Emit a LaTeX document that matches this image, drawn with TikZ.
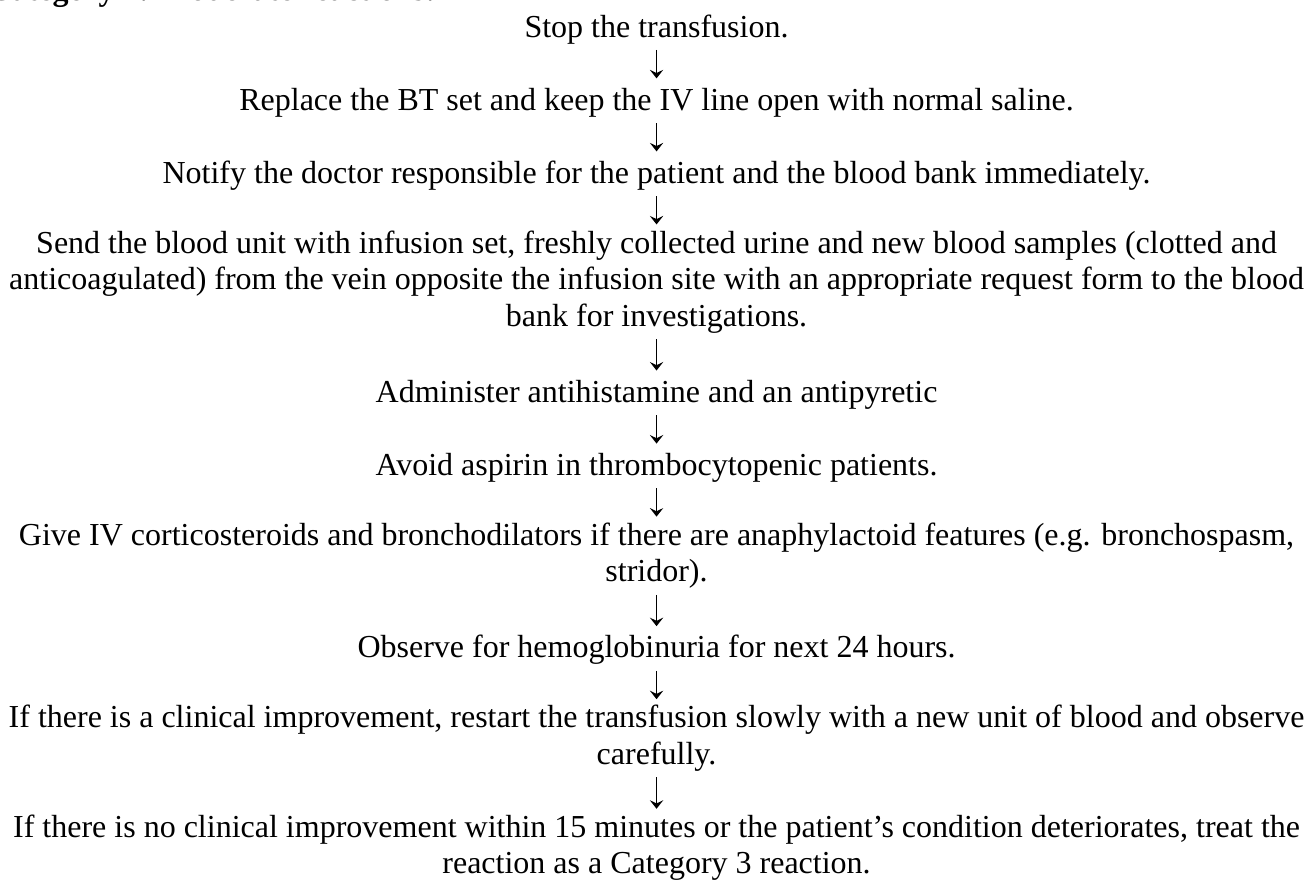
\documentclass[tikz,border=0pt]{standalone}
\usepackage{fontspec}
\setmainfont{Liberation Serif}
\usetikzlibrary{arrows.meta}
\begin{document}
\begin{tikzpicture}[x=1pt,y=1pt,
  stepnode/.style={anchor=north, inner sep=0pt, outer sep=0pt, align=center,
    font=\fontsize{12}{13.7}\selectfont,
    execute at begin node=\strut, execute at end node=\strut},
  arr/.style={line width=0.5pt, -{Stealth[length=3.2pt,width=5pt,inset=1.2pt]},
    shorten <=0.75pt, shorten >=2.3pt}]
\useasboundingbox (0,0) rectangle (491.25,-332.25);
\clip (0,0) rectangle (491.25,-332.25);
\node[anchor=base west, inner sep=0pt, font=\fontsize{12}{13.7}\selectfont\bfseries] (hdr) at (-4.5,-0.19) {Category 2: Moderate reactions:};
\def\cx{246.2}
\node[stepnode] (s1) at (\cx,-4.295) {Stop the transfusion.};
\node[stepnode] (s2) at (\cx,-31.685) {Replace the BT set and keep the IV line open with normal saline.};
\node[stepnode] (s3) at (\cx,-59.075) {Notify the doctor responsible for the patient and the blood bank immediately.};
\node[stepnode] (s4) at (\cx,-86.465) {Send the blood unit with infusion set, freshly collected urine and new blood samples (clotted and\\anticoagulated) from the vein opposite the infusion site with an appropriate request form to the blood\\bank for investigations.};
\node[stepnode] (s5) at (\cx,-141.245) {Administer antihistamine and an antipyretic};
\node[stepnode] (s6) at (\cx,-168.635) {Avoid aspirin in thrombocytopenic patients.};
\node[stepnode] (s7) at (\cx,-196.025) {Give IV corticosteroids and bronchodilators if there are anaphylactoid features (e.g. bronchospasm,\\stridor).};
\node[stepnode] (s8) at (\cx,-237.11) {Observe for hemoglobinuria for next 24 hours.};
\node[stepnode] (s9) at (\cx,-264.5) {If there is a clinical improvement, restart the transfusion slowly with a new unit of blood and observe\\carefully.};
\node[stepnode] (s10) at (\cx,-305.585) {If there is no clinical improvement within 15 minutes or the patient’s condition deteriorates, treat the\\reaction as a Category 3 reaction.};
\foreach \a/\b in {s1/s2,s2/s3,s3/s4,s4/s5,s5/s6,s6/s7,s7/s8,s8/s9,s9/s10}
  \draw[arr] (\a.south) -- (\b.north);
\end{tikzpicture}
\end{document}
